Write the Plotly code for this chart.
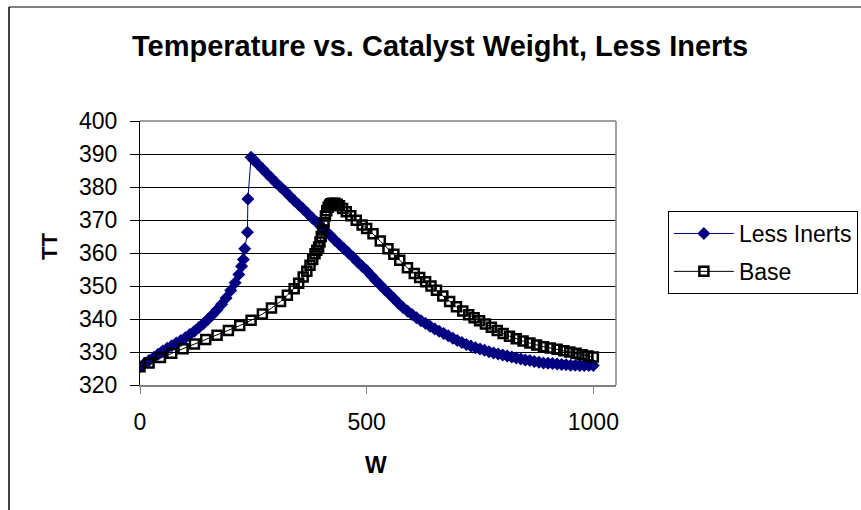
import plotly.graph_objects as go

# ---- data ----
less_w = [0, 10, 20, 30, 40, 50, 60, 70, 80, 90, 100, 110, 120, 130, 140, 150, 160, 170, 180, 190,
          200, 210, 218, 224, 228, 231, 237, 238, 245,
          250, 260, 270, 280, 290, 300, 310, 320, 330, 340, 350, 360, 370, 380, 390, 400, 410, 420,
          430, 440, 450, 460, 470, 480, 490, 500, 510, 520, 530, 540, 550, 560, 570, 580, 590, 600,
          610, 620, 630, 640, 650, 660, 670, 680, 690, 700, 710, 720, 730, 740, 750, 760, 770, 780,
          790, 800, 810, 820, 830, 840, 850, 860, 870, 880, 890, 900, 910, 920, 930, 940, 950, 960,
          970, 980, 990, 1000]
less_t = [325.5, 326.5, 327.4, 328.3, 329.3, 330.3, 331.1, 331.9, 332.7, 333.5, 334.3, 335.3, 336.3,
          337.4, 338.6, 339.9, 341.3, 342.8, 344.5, 346.4,
          348.6, 351.0, 353.5, 356.0, 358.0, 361.3, 366.3, 376.4, 389.0,
          388.3, 386.9, 385.5, 384.1, 382.7, 381.3, 380.0, 378.7, 377.3, 375.9, 374.6, 373.3, 372.0,
          370.6, 369.3, 368.0, 366.6, 365.3, 363.9, 362.6, 361.3, 360.0, 358.7, 357.3, 356.0, 354.7,
          353.2, 351.7, 350.3, 348.9, 347.6, 346.2, 344.8, 343.5, 342.4, 341.4, 340.4, 339.5, 338.6,
          337.8, 337.0, 336.3, 335.6, 334.9, 334.2, 333.5, 332.9, 332.3, 331.8, 331.3, 330.9, 330.5,
          330.1, 329.7, 329.4, 329.1, 328.8, 328.5, 328.2, 327.9, 327.6, 327.4, 327.1, 326.9, 326.7,
          326.6, 326.5, 326.4, 326.2, 326.1, 326.0, 326.0, 325.9, 325.9, 325.9, 325.9]

base_w = [0, 20, 45, 70, 95, 120, 145, 170, 195, 220, 245, 270, 290, 310, 325, 340, 350, 360, 368,
          375, 381, 386, 390, 394, 397, 400, 403, 406, 409, 412, 415, 418, 421, 425, 430, 435, 440,
          447, 455, 465, 477, 490, 500, 514, 530, 547, 560, 573, 590, 605, 617, 630, 642, 654, 668,
          683, 698, 712, 725, 737, 749, 762, 775, 788, 801, 815, 830, 845, 860, 875, 890, 905, 920,
          935, 948, 962, 975, 988, 1000]
base_t = [325.5, 326.7, 328.3, 329.6, 331.0, 332.4, 333.8, 335.1, 336.5, 338.0, 339.6, 341.5, 343.3,
          345.3, 347.2, 349.2, 350.8, 352.7, 354.5, 356.3, 358.0, 359.8, 360.8, 361.8, 363.3, 365.0,
          367.0, 369.2, 371.2, 372.8, 373.9, 374.5, 374.9, 375.1, 375.1, 374.8, 374.3, 373.5, 372.5,
          371.3, 369.9, 368.5, 367.4, 365.8, 363.6, 361.3, 359.6, 357.8, 355.5, 353.8, 352.6, 351.3,
          350.0, 348.7, 347.0, 345.3, 343.7, 342.4, 341.3, 340.4, 339.5, 338.5, 337.5, 336.5, 335.6,
          334.8, 334.0, 333.3, 332.7, 332.1, 331.6, 331.2, 330.8, 330.4, 330.0, 329.6, 329.2, 328.8,
          328.5]

x_ticks = [0, 500, 1000]
y_ticks = [320, 330, 340, 350, 360, 370, 380, 390, 400]

FONT = "Liberation Sans, Arial, sans-serif"

fig = go.Figure()
fig.add_trace(go.Scatter(
    x=less_w, y=less_t, mode="lines+markers", name="Less Inerts",
    legendgroup="a",
    line=dict(color="#000080", width=1),
    marker=dict(symbol="diamond", size=10, color="#000080", line=dict(width=0)),
))
fig.add_trace(go.Scatter(
    x=base_w, y=base_t, mode="lines+markers", name="Base",
    legendgroup="b",
    line=dict(color="#000000", width=1),
    marker=dict(symbol="square-open", size=9, color="#000000",
                line=dict(width=2.5, color="#000000")),
))

fig.update_layout(
    width=861, height=510,
    margin=dict(l=140, r=245, t=121, b=125, autoexpand=False),
    paper_bgcolor="white", plot_bgcolor="white",
    font=dict(family=FONT, size=23, color="black"),
    showlegend=True,
    legend=dict(x=1.109, y=0.659, xanchor="left", yanchor="top",
                bordercolor="black", borderwidth=1, bgcolor="white",
                font=dict(family=FONT, size=23, color="black"),
                traceorder="grouped", tracegroupgap=5, itemwidth=60),
    xaxis=dict(range=[0, 1050], tickvals=x_ticks, ticktext=[str(v) for v in x_ticks],
               showgrid=False, zeroline=False,
               showline=True, linecolor="#808080", linewidth=2,
               ticks="outside", ticklen=7, tickcolor="#808080", tickwidth=1,
               ticklabelstandoff=8,
               tickfont=dict(family=FONT, size=23, color="black")),
    yaxis=dict(range=[320, 400], tickvals=y_ticks, ticktext=[str(v) for v in y_ticks],
               showgrid=True, gridcolor="#000000", gridwidth=1, zeroline=False,
               showline=True, linecolor="#000000", linewidth=1,
               ticks="outside", ticklen=9, tickcolor="#000000", tickwidth=1,
               ticklabelstandoff=8,
               tickfont=dict(family=FONT, size=23, color="black")),
    shapes=[
        # plot area border (right/top)
        dict(type="line", xref="paper", yref="paper", x0=0, x1=1, y0=1, y1=1,
             line=dict(color="#808080", width=1.5)),
        dict(type="line", xref="paper", yref="paper", x0=1, x1=1, y0=0, y1=1,
             line=dict(color="#808080", width=1.5)),
        # outer chart border
        dict(type="line", xref="paper", yref="paper", x0=-0.2752, x1=1.7, y0=1.4318, y1=1.4318,
             line=dict(color="#808080", width=2)),
        dict(type="line", xref="paper", yref="paper", x0=-0.2752, x1=-0.2752, y0=-0.6, y1=1.4318,
             line=dict(color="#000000", width=1.5)),
    ],
    annotations=[
        dict(text="<b>Temperature vs. Catalyst Weight, Less Inerts</b>", xref="paper", yref="paper",
             x=0.630, y=1.284, xanchor="center", yanchor="middle", showarrow=False,
             font=dict(family=FONT, size=29, color="black")),
        dict(text="<b>TT</b>", xref="paper", yref="paper", x=-0.189, y=0.523,
             xanchor="center", yanchor="middle", textangle=-90, showarrow=False,
             font=dict(family=FONT, size=22, color="black")),
        dict(text="<b>W</b>", xref="paper", yref="paper", x=0.496, y=-0.303,
             xanchor="center", yanchor="middle", showarrow=False,
             font=dict(family=FONT, size=23, color="black")),
    ],
)

fig.write_html("out.html", config={"displayModeBar": False},
               post_script="document.body.style.margin='0';document.body.style.overflow='hidden';")
